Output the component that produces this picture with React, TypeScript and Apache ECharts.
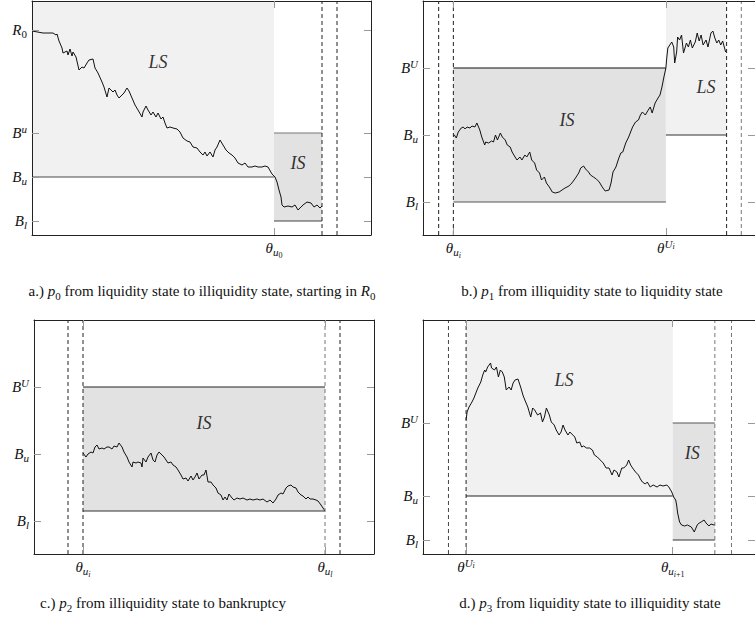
import React, { useEffect, useRef } from "react";
import * as echarts from "echarts";

const INK = "#111";
const SERIF = "'Liberation Serif', 'Times New Roman', 'DejaVu Serif', serif";
const LS_FILL = "#f1f1f1";
const IS_FILL = "#e2e2e2";
const Y_MAX = 234;

// ---------- Panel a ----------
const pathA: number[][] = [
  [0, 204], [11, 202], [21, 202], [24, 200], [25, 201], [27, 194], [30, 187], [31, 182], [35, 184], [36, 180],
  [38, 186], [40, 179], [41, 183], [44, 178], [47, 165], [50, 168], [52, 167], [55, 172], [57, 175], [61, 176],
  [63, 167], [66, 162], [70, 153], [72, 148], [75, 138], [77, 147], [81, 143], [83, 145], [85, 140], [87, 137],
  [90, 140], [92, 142], [95, 147], [97, 144], [100, 137], [103, 130], [106, 125], [110, 118], [111, 123], [114, 129],
  [116, 125], [119, 120], [121, 123], [124, 118], [126, 122], [129, 116], [131, 118], [133, 112], [135, 107], [138, 108],
  [141, 107], [145, 106], [148, 103], [151, 97], [155, 94], [158, 93], [161, 88], [165, 87], [168, 83], [171, 80],
  [173, 83], [175, 79], [178, 83], [181, 78], [183, 85], [185, 88], [188, 95], [191, 90], [194, 85], [197, 82],
  [200, 80], [203, 77], [206, 72], [210, 70], [213, 72], [216, 68], [220, 68], [223, 69], [226, 68], [230, 68],
  [233, 69], [236, 68], [240, 61], [243, 58], [245, 53], [247, 45], [249, 38], [250, 30], [252, 28], [256, 29],
  [260, 28], [263, 30], [266, 25], [269, 28], [271, 30], [275, 33], [279, 32], [282, 28], [285, 30], [288, 27],
  [290, 29],
];
const levelsA = [14, 58, 102, 205];
const levelNamesA = ["B_l", "B_u", "B^u", "R_0"];
const timesA = [242];
const timeNamesA = ["θ_{u_0}"];
const stoppingA = [290, 305];
const regionsA = [[0, 58, 242, 234], [242, 14, 290, 102]];
const regionStatesA = ["LS", "IS"];
const barriersA = [[0, 242, 58], [242, 290, 102], [242, 290, 14]];
const stateLabelsA: (number | string)[][] = [[126, 173, "LS"], [266, 72, "IS"]];
const captionA = "a.) $p_0$ from liquidity state to illiquidity state, starting in $R_0$";

// ---------- Panel b ----------
const pathB: number[][] = [
  [31, 100], [32, 100], [34, 97], [36, 103], [39, 107], [41, 108], [43, 106], [45, 108], [48, 107], [50, 109],
  [53, 108], [55, 112], [58, 105], [60, 98], [63, 90], [64, 93], [67, 92], [70, 94], [72, 93], [74, 100],
  [76, 95], [79, 102], [81, 98], [84, 95], [86, 90], [89, 88], [91, 83], [94, 78], [96, 75], [99, 78],
  [101, 75], [104, 80], [106, 78], [109, 83], [111, 75], [114, 72], [116, 65], [119, 62], [121, 55], [124, 58],
  [126, 52], [129, 48], [132, 43], [135, 42], [139, 43], [142, 45], [145, 47], [149, 49], [152, 52], [155, 56],
  [159, 62], [161, 67], [164, 69], [166, 66], [169, 63], [171, 60], [174, 58], [177, 56], [180, 53], [183, 48],
  [186, 44], [190, 45], [192, 52], [194, 63], [197, 68], [200, 77], [202, 82], [204, 83], [207, 92], [210, 98],
  [212, 103], [214, 108], [217, 113], [220, 115], [222, 120], [224, 123], [227, 120], [230, 125], [232, 128], [234, 122],
  [237, 132], [240, 137], [242, 140], [244, 148], [246, 158], [248, 167], [249, 178], [250, 187], [252, 190], [254, 193],
  [256, 188], [257, 172], [259, 183], [260, 198], [262, 195], [264, 200], [266, 182], [269, 192], [271, 188], [273, 195],
  [275, 187], [278, 193], [280, 202], [282, 194], [284, 200], [286, 190], [289, 195], [291, 188], [294, 202], [296, 204],
  [298, 197], [300, 192], [302, 195], [304, 190], [306, 194], [309, 183],
];
const levelsB = [33, 100, 167];
const levelNamesB = ["B_l", "B_u", "B^U"];
const timesB = [31, 248];
const timeNamesB = ["θ_{u_i}", "θ^{U_i}"];
const stoppingB = [16, 31, 310, 325];
const regionsB = [[31, 33, 248, 167], [248, 100, 310, 234]];
const regionStatesB = ["IS", "LS"];
const barriersB = [[31, 248, 167], [31, 248, 33], [248, 310, 100]];
const stateLabelsB: (number | string)[][] = [[147, 115, "IS"], [289, 148, "LS"]];
const captionB = "b.) $p_1$ from illiquidity state to liquidity state";

// ---------- Panel c ----------
const pathC: number[][] = [
  [49, 101], [52, 97], [54, 100], [57, 102], [59, 101], [61, 107], [63, 109], [65, 105], [68, 106], [70, 105],
  [73, 107], [75, 107], [78, 105], [80, 108], [83, 107], [85, 111], [88, 107], [90, 102], [93, 97], [95, 92],
  [98, 87], [99, 92], [102, 91], [104, 92], [107, 91], [108, 87], [109, 96], [112, 92], [114, 97], [117, 101],
  [119, 94], [121, 92], [123, 99], [125, 102], [128, 99], [130, 97], [132, 94], [134, 91], [137, 92], [139, 89],
  [142, 87], [144, 84], [147, 79], [149, 75], [152, 76], [154, 73], [157, 78], [159, 74], [161, 77], [163, 81],
  [165, 75], [168, 79], [170, 79], [172, 84], [174, 72], [177, 72], [179, 69], [182, 66], [184, 61], [187, 59],
  [189, 54], [191, 57], [193, 54], [195, 60], [198, 56], [200, 54], [203, 56], [206, 55], [209, 56], [213, 54],
  [216, 55], [219, 54], [223, 55], [226, 54], [229, 55], [233, 52], [236, 54], [239, 51], [242, 55], [244, 59],
  [247, 61], [249, 60], [252, 66], [254, 68], [257, 69], [259, 67], [262, 66], [264, 62], [267, 59], [269, 58],
  [272, 55], [274, 57], [276, 55], [279, 55], [282, 54], [284, 53], [287, 49], [289, 46], [291, 43],
];
const levelsC = [33, 100, 167];
const levelNamesC = ["B_l", "B_u", "B^U"];
const timesC = [49, 291];
const timeNamesC = ["θ_{u_i}", "θ_{u_l}"];
const stoppingC = [34, 49, 291, 306];
const regionsC = [[49, 43, 291, 167]];
const regionStatesC = ["IS"];
const barriersC = [[49, 291, 167], [49, 291, 43]];
const stateLabelsC: (number | string)[][] = [[170, 131, "IS"]];
const captionC = "c.) $p_2$ from illiquidity state to bankruptcy";

// ---------- Panel d ----------
const pathD: number[][] = [
  [44, 134], [45, 142], [47, 147], [50, 152], [52, 156], [54, 161], [56, 166], [59, 172], [61, 179], [63, 184],
  [64, 182], [66, 187], [69, 191], [70, 186], [73, 184], [75, 187], [77, 177], [79, 184], [81, 182], [83, 177],
  [85, 164], [88, 167], [90, 164], [92, 171], [94, 174], [97, 175], [100, 166], [102, 159], [104, 154], [107, 147],
  [110, 137], [112, 146], [114, 144], [117, 139], [120, 141], [122, 132], [124, 137], [126, 146], [129, 139], [131, 132],
  [134, 129], [136, 124], [139, 119], [141, 122], [143, 129], [145, 124], [148, 119], [150, 122], [153, 119], [155, 117],
  [157, 111], [160, 112], [162, 107], [164, 108], [167, 106], [170, 106], [173, 104], [175, 99], [178, 97], [180, 95],
  [184, 91], [187, 86], [190, 86], [193, 79], [195, 84], [198, 82], [200, 77], [203, 86], [205, 86], [208, 89],
  [210, 94], [212, 89], [214, 86], [217, 82], [220, 79], [222, 75], [224, 72], [227, 70], [229, 72], [232, 67],
  [235, 69], [239, 67], [242, 69], [245, 68], [249, 69], [251, 67], [254, 62], [256, 57], [258, 54], [259, 49],
  [260, 41], [262, 32], [264, 29], [267, 28], [270, 29], [274, 27], [277, 22], [280, 29], [282, 31], [284, 32],
  [287, 34], [289, 31], [292, 28], [294, 30], [297, 29], [298, 30],
];
const levelsD = [14, 58, 131];
const levelNamesD = ["B_l", "B_u", "B^U"];
const timesD = [44, 255];
const timeNamesD = ["θ^{U_i}", "θ_{u_{i+1}}"];
const stoppingD = [26, 44, 298, 315];
const regionsD = [[44, 58, 255, 234], [255, 14, 298, 131]];
const regionStatesD = ["LS", "IS"];
const barriersD = [[44, 255, 58], [255, 298, 131], [255, 298, 14]];
const stateLabelsD: (number | string)[][] = [[144, 174, "LS"], [275, 101, "IS"]];
const captionD = "d.) $p_3$ from liquidity state to illiquidity state";

// ---------- layout & styling (not data) ----------
const panels = [
  {
    grid: { left: 32, top: 1, width: 339, height: 234 }, xMax: 339,
    path: pathA, levels: levelsA, levelNames: levelNamesA, times: timesA, timeNames: timeNamesA,
    stopping: stoppingA, dashTone: ["#222", "#222"], regions: regionsA, regionStates: regionStatesA,
    barriers: barriersA, barrierTone: ["#4a4a4a", "#777", "#444"], stateLabels: stateLabelsA,
    caption: captionA, capX: 202, capY: 279,
  },
  {
    grid: { left: 423, top: 1, width: 339, height: 234 }, xMax: 339,
    path: pathB, levels: levelsB, levelNames: levelNamesB, times: timesB, timeNames: timeNamesB,
    stopping: stoppingB, dashTone: ["#222", "#222", "#222", "#777"], regions: regionsB, regionStates: regionStatesB,
    barriers: barriersB, barrierTone: ["#111", "#555", "#333"], stateLabels: stateLabelsB,
    caption: captionB, capX: 592, capY: 279,
  },
  {
    grid: { left: 34, top: 320, width: 340, height: 234 }, xMax: 340,
    path: pathC, levels: levelsC, levelNames: levelNamesC, times: timesC, timeNames: timeNamesC,
    stopping: stoppingC, dashTone: ["#222", "#222", "#777", "#222"], regions: regionsC, regionStates: regionStatesC,
    barriers: barriersC, barrierTone: ["#222", "#333"], stateLabels: stateLabelsC,
    caption: captionC, capX: 163, capY: 591,
  },
  {
    grid: { left: 423, top: 320, width: 339, height: 234 }, xMax: 339,
    path: pathD, levels: levelsD, levelNames: levelNamesD, times: timesD, timeNames: timeNamesD,
    stopping: stoppingD, dashTone: ["#444", "#222", "#777", "#777"], regions: regionsD, regionStates: regionStatesD,
    barriers: barriersD, barrierTone: ["#222", "#555", "#333"], stateLabels: stateLabelsD,
    caption: captionD, capX: 590, capY: 591,
  },
];

// ---------- tiny TeX-like label parser into ECharts rich text ----------
type Tok = { t: string; style: string };
function toks(s: string, prefix: string): Tok[] {
  const out: Tok[] = [];
  const push = (text: string, style: string) => {
    const last = out[out.length - 1];
    if (last && last.style === style) last.t += text;
    else out.push({ t: text, style });
  };
  let i = 0;
  while (i < s.length) {
    const c = s[i];
    if (c === "_" || c === "^") {
      i++;
      let g = "";
      if (s[i] === "{") {
        let depth = 0;
        const start = i;
        while (i < s.length) {
          if (s[i] === "{") depth++;
          else if (s[i] === "}") {
            depth--;
            if (depth === 0) break;
          }
          i++;
        }
        g = s.slice(start + 1, i);
        i++;
      } else {
        g = s[i];
        i++;
      }
      toks(g, prefix + (c === "_" ? "b" : "p")).forEach((t) => push(t.t, t.style));
    } else {
      push(c, prefix + (/[A-Za-zθ]/.test(c) ? "I" : "R"));
      i++;
    }
  }
  return out;
}
function texToRich(s: string): string {
  if (!s.includes("$")) return toks(s, "m").map((t) => `{${t.style}|${t.t}}`).join("");
  return s
    .split("$")
    .map((seg, k) => {
      if (!seg) return "";
      if (k % 2 === 0) return `{mT|${seg}}`;
      return toks(seg, "m").map((t) => `{${t.style}|${t.t}}`).join("");
    })
    .join("");
}
function richSet(size: number, lh: number) {
  const s1 = Math.round(size * 0.7);
  const s2 = Math.round(size * 0.55);
  const r: Record<string, any> = {};
  const mk = (fs: number, st: string, extra: any) => ({
    fontFamily: SERIF, color: INK, fontSize: fs, fontStyle: st, ...extra,
  });
  const variants: [string, string][] = [["I", "italic"], ["R", "normal"], ["T", "normal"]];
  for (const [suf, st] of variants) {
    r["m" + suf] = mk(size, st, { lineHeight: lh, verticalAlign: "middle" });
    r["mb" + suf] = mk(s1, st, { lineHeight: s1, verticalAlign: "bottom", padding: [0, 0, 2, 0] });
    r["mp" + suf] = mk(s1, st, { lineHeight: s1, verticalAlign: "top", padding: [2, 0, 0, 0] });
    r["mbb" + suf] = mk(s2, st, { lineHeight: s2, verticalAlign: "bottom", padding: [0, 0, 0, 0] });
    r["mpb" + suf] = mk(s2, st, { lineHeight: s2, verticalAlign: "top", padding: [6, 0, 0, 0] });
  }
  return r;
}
const RICH_LABEL = richSet(15, 23);
const RICH_CAPTION = richSet(15, 24);

function labelFormatter(values: number[], names: string[]) {
  return (v: number) => {
    const k = values.findIndex((x) => Math.abs(x - v) < 1e-6);
    return k >= 0 ? texToRich(names[k]) : "";
  };
}

function buildOption() {
  const grid: any[] = [];
  const xAxis: any[] = [];
  const yAxis: any[] = [];
  const series: any[] = [];
  const title: any[] = [];
  const frame = { show: true, onZero: false, lineStyle: { color: "#222", width: 1 } };
  const tick = (vals: number[]) => ({
    show: true, inside: true, length: 7, customValues: vals, lineStyle: { color: "#999", width: 1 },
  });

  panels.forEach((p, idx) => {
    grid.push({ ...p.grid, containLabel: false });
    const xi = idx * 2;
    xAxis.push({
      type: "value", gridIndex: idx, min: 0, max: p.xMax, position: "bottom", z: 10,
      axisLine: frame, axisTick: tick(p.times), splitLine: { show: false },
      axisLabel: {
        show: true, customValues: p.times, margin: 1,
        formatter: labelFormatter(p.times, p.timeNames), rich: RICH_LABEL,
      },
    });
    xAxis.push({
      type: "value", gridIndex: idx, min: 0, max: p.xMax, position: "top", z: 10,
      axisLine: frame, axisTick: tick(p.times), splitLine: { show: false }, axisLabel: { show: false },
    });
    yAxis.push({
      type: "value", gridIndex: idx, min: 0, max: Y_MAX, position: "left", z: 10,
      axisLine: frame, axisTick: tick(p.levels), splitLine: { show: false },
      axisLabel: {
        show: true, customValues: p.levels, margin: 5,
        formatter: labelFormatter(p.levels, p.levelNames), rich: RICH_LABEL,
      },
    });
    yAxis.push({
      type: "value", gridIndex: idx, min: 0, max: Y_MAX, position: "right", z: 10,
      axisLine: frame, axisTick: tick(p.levels), splitLine: { show: false }, axisLabel: { show: false },
    });
    const axes = { xAxisIndex: xi, yAxisIndex: xi };

    // shaded state regions
    const states = p.regionStates;
    series.push({
      type: "custom", ...axes, z: 1, silent: true,
      data: p.regions,
      renderItem: (params: any, api: any) => {
        const a = api.coord([api.value(0), api.value(1)]);
        const b = api.coord([api.value(2), api.value(3)]);
        return {
          type: "rect",
          shape: {
            x: Math.min(a[0], b[0]), y: Math.min(a[1], b[1]),
            width: Math.abs(b[0] - a[0]), height: Math.abs(b[1] - a[1]),
          },
          style: { fill: states[params.dataIndex] === "LS" ? LS_FILL : IS_FILL },
        };
      },
    });

    // barrier lines
    p.barriers.forEach((bar, k) => {
      series.push({
        type: "line", ...axes, z: 3, silent: true, symbol: "none",
        data: [[bar[0], bar[2]], [bar[1], bar[2]]],
        lineStyle: { color: p.barrierTone[k], width: 1.2 },
      });
    });

    // dashed stopping-time lines
    p.stopping.forEach((s, k) => {
      series.push({
        type: "line", ...axes, z: 5, silent: true, symbol: "none",
        data: [[s, 0], [s, Y_MAX]],
        lineStyle: { color: p.dashTone[k], width: 1, type: [4, 3] },
      });
    });

    // sample path
    series.push({
      type: "line", ...axes, z: 4, silent: true, symbol: "none", showSymbol: false,
      data: p.path, lineStyle: { color: INK, width: 1 },
    });

    // state labels
    series.push({
      type: "scatter", ...axes, z: 6, silent: true, symbolSize: 1,
      itemStyle: { color: "rgba(0,0,0,0)" },
      data: p.stateLabels,
      label: {
        show: true, position: "inside", formatter: (q: any) => q.data[2],
        fontFamily: SERIF, fontStyle: "italic", fontSize: 18, color: "#000",
      },
    });

    title.push({
      text: texToRich(p.caption), left: p.capX, top: p.capY, textAlign: "center", padding: 0,
      textStyle: { rich: RICH_CAPTION, fontFamily: SERIF, fontSize: 15, color: INK, fontWeight: "normal" },
    });
  });

  return { animation: false, backgroundColor: "#fff", grid, xAxis, yAxis, series, title };
}

export default function App() {
  const ref = useRef<HTMLDivElement>(null);
  useEffect(() => {
    document.body.style.margin = "0";
    const chart = echarts.init(ref.current!, undefined, { renderer: "svg" });
    chart.setOption(buildOption() as any);
    return () => chart.dispose();
  }, []);
  return (
    <div
      ref={ref}
      style={{ position: "absolute", left: 0, top: 0, width: 755, height: 621, background: "#fff" }}
    />
  );
}
